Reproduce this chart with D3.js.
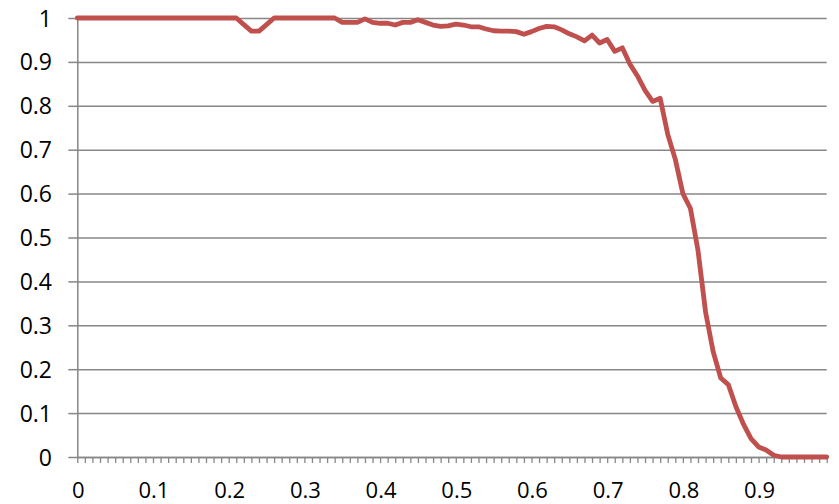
<!DOCTYPE html>
<html>
<head>
<meta charset="utf-8">
<script src="https://cdn.jsdelivr.net/npm/d3@7"></script>
<style>
  html, body { margin: 0; padding: 0; background: #fff; }
  svg { display: block; }
  text { font-family: "Open Sans", "Noto Sans", sans-serif; fill: #000; }
</style>
</head>
<body>
<svg id="chart" width="839" height="504"></svg>
<script>
const categories = [
  0.00,0.01,0.02,0.03,0.04,0.05,0.06,0.07,0.08,0.09,
  0.10,0.11,0.12,0.13,0.14,0.15,0.16,0.17,0.18,0.19,
  0.20,0.21,0.22,0.23,0.24,0.25,0.26,0.27,0.28,0.29,
  0.30,0.31,0.32,0.33,0.34,0.35,0.36,0.37,0.38,0.39,
  0.40,0.41,0.42,0.43,0.44,0.45,0.46,0.47,0.48,0.49,
  0.50,0.51,0.52,0.53,0.54,0.55,0.56,0.57,0.58,0.59,
  0.60,0.61,0.62,0.63,0.64,0.65,0.66,0.67,0.68,0.69,
  0.70,0.71,0.72,0.73,0.74,0.75,0.76,0.77,0.78,0.79,
  0.80,0.81,0.82,0.83,0.84,0.85,0.86,0.87,0.88,0.89,
  0.90,0.91,0.92,0.93,0.94,0.95,0.96,0.97,0.98,0.99
];
const values = [
  1,1,1,1,1,1,1,1,1,1,
  1,1,1,1,1,1,1,1,1,1,
  1,1,0.985,0.97,0.97,0.985,1,1,1,1,
  1,1,1,1,1,0.99,0.99,0.99,0.998,0.99,
  0.988,0.988,0.984,0.99,0.99,0.996,0.99,0.984,0.981,0.982,
  0.986,0.984,0.98,0.98,0.975,0.971,0.97,0.97,0.969,0.963,
  0.969,0.976,0.981,0.98,0.973,0.964,0.957,0.948,0.961,0.943,
  0.951,0.924,0.932,0.895,0.868,0.835,0.81,0.817,0.735,0.678,
  0.6,0.566,0.47,0.33,0.24,0.18,0.165,0.115,0.075,0.042,
  0.023,0.016,0.004,0,0,0,0,0,0,0
];
const xTickLabels = ["0","0.1","0.2","0.3","0.4","0.5","0.6","0.7","0.8","0.9"];
const yTickValues = [0,0.1,0.2,0.3,0.4,0.5,0.6,0.7,0.8,0.9,1];
const yTickLabels = ["0","0.1","0.2","0.3","0.4","0.5","0.6","0.7","0.8","0.9","1"];

const svg = d3.select("#chart");
const plotLeft = 77.3, plotRight = 826.7, plotTop = 18, plotBottom = 457;
const gridColor = "#878787";
const lineColor = "#C0504D";

const x = d3.scaleLinear().domain([0, categories.length - 1]).range([plotLeft, plotRight]);
const y = d3.scaleLinear().domain([0, 1]).range([plotBottom, plotTop]);

// gridlines
const grid = svg.append("g").attr("transform", `translate(${plotLeft},0)`)
  .call(d3.axisLeft(y).tickValues(yTickValues).tickSize(-(plotRight - plotLeft)).tickFormat(""));
grid.select(".domain").remove();
grid.selectAll(".tick line").attr("stroke", gridColor).attr("stroke-width", 1.5);

// y axis
const yAxis = svg.append("g").attr("transform", `translate(${plotLeft},0)`)
  .call(d3.axisLeft(y).tickValues(yTickValues).tickSize(9).tickSizeOuter(0)
    .tickFormat((d, i) => yTickLabels[i]));
yAxis.select(".domain").attr("stroke", gridColor).attr("stroke-width", 1.5);
yAxis.selectAll(".tick line").attr("stroke", gridColor).attr("stroke-width", 1.5);
yAxis.selectAll(".tick text")
  .attr("x", -(plotLeft - 52)).attr("dy", "0.35em")
  .style("font-size", "23px").style("font-family", "'Open Sans', sans-serif").attr("fill", "#000");

// x axis minor ticks
const xAxis = svg.append("g").attr("transform", `translate(0,${plotBottom})`)
  .call(d3.axisBottom(x).tickValues(d3.range(categories.length)).tickSize(6).tickSizeOuter(0).tickFormat(""));
xAxis.select(".domain").attr("stroke", gridColor).attr("stroke-width", 1.5);
xAxis.selectAll(".tick line").attr("stroke", gridColor).attr("stroke-width", 1.3);

// x labels every 10 categories
svg.append("g").selectAll("text")
  .data(xTickLabels)
  .join("text")
  .attr("x", (d, i) => x(i * 10) + 1)
  .attr("y", 498)
  .attr("text-anchor", "middle")
  .style("font-size", "22px")
  .text(d => d);

// series line
const line = d3.line().x((d, i) => x(i)).y(d => y(d));
svg.append("path")
  .datum(values)
  .attr("d", line)
  .attr("fill", "none")
  .attr("stroke", lineColor)
  .attr("stroke-width", 4.8)
  .attr("stroke-linejoin", "round")
  .attr("stroke-linecap", "round");
</script>
</body>
</html>
